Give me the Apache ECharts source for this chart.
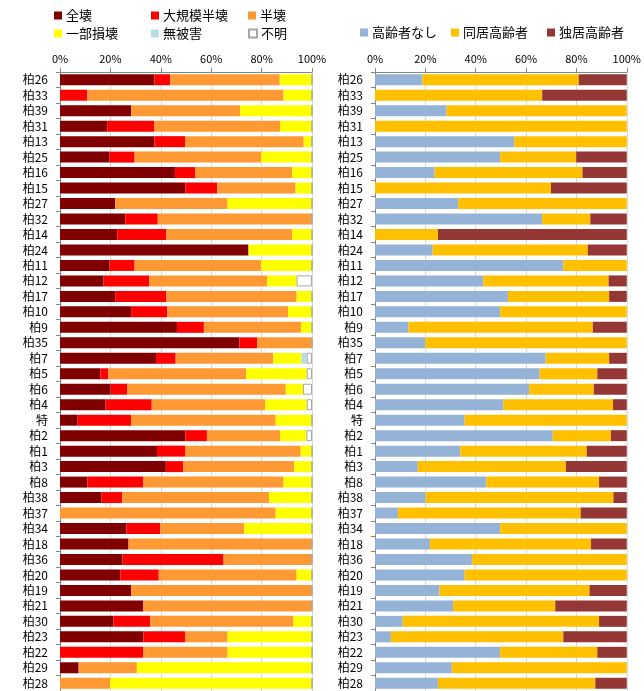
<!DOCTYPE html>
<html>
<head>
<meta charset="utf-8">
<script src="https://cdn.jsdelivr.net/npm/echarts@6/dist/echarts.min.js"></script>
<style>
  html, body { margin: 0; padding: 0; background: #fff; }
  #chart { width: 644px; height: 691px; }
</style>
</head>
<body>
<div id="chart"></div>
<script>
// 地区ごとの被害状況と高齢者世帯の構成（割合, %）
const areas = ['柏26','柏33','柏39','柏31','柏13','柏25','柏16','柏15','柏27','柏32',
  '柏14','柏24','柏11','柏12','柏17','柏10','柏9','柏35','柏7','柏5',
  '柏6','柏4','特','柏2','柏1','柏3','柏8','柏38','柏37','柏34',
  '柏18','柏36','柏20','柏19','柏21','柏30','柏23','柏22','柏29','柏28'];

// 被害区分
const zenkai   = [37.5,0,28.2,18.7,37.5,19.7,45.6,49.7,21.9,25.9,22.7,74.8,19.7,17.3,21.9,28.2,46.4,71.2,38.1,16.0,20.1,18.1,7.0,49.7,38.5,42.0,10.9,16.5,0,26.4,27.2,24.8,23.9,28.2,33.1,21.2,33.1,0,7.4,0];
const daikibo  = [6.2,10.8,0,18.6,12.1,9.9,8.0,12.7,0,12.9,19.4,0,9.9,18.1,20.2,14.4,10.7,7.0,7.8,3.1,6.5,18.3,21.2,8.6,11.1,6.9,22.2,8.2,0,13.4,0,40.1,15.3,0,0,14.6,16.5,33.1,0,0];
const hankai   = [43.5,77.9,43.3,50.0,47.1,50.2,38.5,31.1,44.6,61.2,50.0,0,50.2,46.8,51.8,47.9,38.5,21.8,38.7,54.8,63.0,45.1,57.4,29.0,45.9,44.0,55.6,58.3,85.6,33.3,72.8,35.1,54.7,71.8,66.9,56.8,16.9,33.4,23.1,19.9];
const ichibu   = [12.8,11.3,28.5,12.7,3.3,20.2,7.9,6.5,33.5,0,7.9,25.2,20.2,11.7,6.1,9.5,4.4,0,11.2,24.0,6.8,16.4,14.4,10.5,4.5,7.1,11.3,17.0,14.4,26.9,0,0,6.1,0,0,7.4,33.5,33.5,69.5,80.1];
const muhigai  = [0,0,0,0,0,0,0,0,0,0,0,0,0,0,0,0,0,0,2.1,0,0,0,0,0,0,0,0,0,0,0,0,0,0,0,0,0,0,0,0,0];
const fumei    = [0,0,0,0,0,0,0,0,0,0,0,0,0,6.1,0,0,0,0,2.1,2.1,3.6,2.1,0,2.2,0,0,0,0,0,0,0,0,0,0,0,0,0,0,0,0];

// 高齢者世帯区分
const nashi    = [18.8,0,28.4,0,55.3,49.7,23.7,0,33.1,66.4,0,22.9,74.8,43.0,52.8,49.7,13.3,20.0,67.8,65.4,61.2,50.9,35.6,70.6,33.9,17.0,44.2,20.1,9.1,49.7,21.8,38.5,35.6,25.6,31.0,11.0,6.3,49.7,30.5,25.0];
const doukyo   = [62.1,66.4,71.6,100,44.7,30.2,58.7,69.9,66.9,19.1,25.0,61.6,25.2,49.8,40.2,50.3,73.2,80.0,25.2,22.9,25.7,43.6,64.4,23.1,50.2,58.8,44.8,74.6,72.6,50.3,64.0,61.5,64.4,59.6,40.6,78.0,68.5,38.6,69.5,62.5];
const dokkyo   = [19.1,33.6,0,0,0,20.1,17.6,30.1,0,14.5,75.0,15.5,0,7.2,7.0,0,13.5,0,7.0,11.7,13.1,5.5,0,6.3,15.9,24.2,11.0,5.3,18.3,0,14.2,0,0,14.8,28.4,11.0,25.2,11.7,0,12.5];

const pctTicks = [0, 20, 40, 60, 80, 100];

const FONT = '"Noto Sans CJK JP", "Noto Sans", sans-serif';
const chart = echarts.init(document.getElementById('chart'), null, { renderer: 'canvas' });

const gridTop = 72, gridHeight = 619;

function xAxisDef(gridIndex) {
  return {
    type: 'value', gridIndex, position: 'top', min: 0, max: 100, interval: 20,
    axisLine: { show: true, lineStyle: { color: '#868686', width: 1 } },
    axisTick: { show: true, inside: false, length: 4, lineStyle: { color: '#868686' } },
    axisLabel: { fontSize: 11, color: '#000', fontFamily: FONT, margin: 8,
      formatter: v => pctTicks.includes(v) ? v + '%' : '' },
    splitLine: { show: true, lineStyle: { color: '#d9d9d9', width: 1 } }
  };
}
function yAxisDef(gridIndex) {
  return {
    type: 'category', gridIndex, data: areas, inverse: true,
    axisLine: { show: true, lineStyle: { color: '#868686', width: 1 } },
    axisTick: { show: true, alignWithLabel: false, length: 4, lineStyle: { color: '#868686' } },
    axisLabel: { fontSize: 12, color: '#000', fontFamily: FONT, margin: 12, interval: 0 }
  };
}
function barSeries(name, data, color, axisIdx, stack, extra) {
  return Object.assign({
    name, type: 'bar', stack, data,
    xAxisIndex: axisIdx, yAxisIndex: axisIdx,
    barCategoryGap: '29%',
    itemStyle: { color },
    emphasis: { disabled: true },
    animation: false
  }, extra || {});
}
function legendAt(name, left, top) {
  return {
    data: [name], left, top, padding: 0,
    icon: 'rect', itemWidth: 8, itemHeight: 8, itemGap: 4,
    textStyle: { fontSize: 13, color: '#000', fontFamily: FONT, padding: [0, 0, 0, -1] },
    selectedMode: false
  };
}

chart.setOption({
  backgroundColor: '#fff',
  textStyle: { fontFamily: FONT },
  legend: [
    legendAt('全壊', 54, 9),
    legendAt('大規模半壊', 151, 9),
    legendAt('半壊', 248, 9),
    legendAt('一部損壊', 54, 27),
    legendAt('無被害', 151, 27),
    legendAt('不明', 248, 27),
    legendAt('高齢者なし', 360, 26),
    legendAt('同居高齢者', 451, 26),
    legendAt('独居高齢者', 547, 26)
  ],
  grid: [
    { left: 60, width: 252, top: gridTop, height: gridHeight },
    { left: 375, width: 254, top: gridTop, height: gridHeight }
  ],
  xAxis: [xAxisDef(0), xAxisDef(1)],
  yAxis: [yAxisDef(0), yAxisDef(1)],
  series: [
    barSeries('全壊', zenkai, '#800000', 0, 'damage'),
    barSeries('大規模半壊', daikibo, '#ff0000', 0, 'damage'),
    barSeries('半壊', hankai, '#ff9933', 0, 'damage'),
    barSeries('一部損壊', ichibu, '#ffff00', 0, 'damage'),
    barSeries('無被害', muhigai, '#b7dee8', 0, 'damage'),
    barSeries('不明', fumei, '#ffffff', 0, 'damage',
      { itemStyle: { color: '#ffffff', borderColor: '#a6a6a6', borderWidth: 1 } }),
    barSeries('高齢者なし', nashi, '#95b3d7', 1, 'elderly'),
    barSeries('同居高齢者', doukyo, '#ffc000', 1, 'elderly'),
    barSeries('独居高齢者', dokkyo, '#953735', 1, 'elderly')
  ]
});
</script>
</body>
</html>
